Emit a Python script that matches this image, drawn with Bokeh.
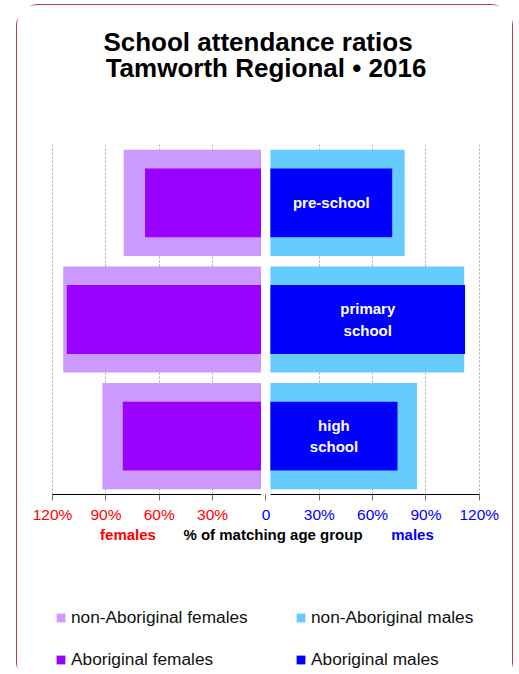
import numpy as np
from bokeh.plotting import figure
from bokeh.layouts import column, row
from bokeh.models import (Range1d, FactorRange, LinearAxis, FixedTicker, Grid,
                          Legend, LegendItem, ColumnDataSource, Spacer)
from bokeh.core.properties import value
from bokeh.embed import file_html
from bokeh.resources import INLINE

# ---------------- data ----------------
categories = ["pre-school", "primary school", "high school"]
bar_labels = ["pre-school", "primary\nschool", "high\nschool"]
non_aboriginal_females = [80, 114, 92]
aboriginal_females = [68, 112, 80.5]
non_aboriginal_males = [78, 111.5, 85]
aboriginal_males = [71, 112, 74]
female_ticks = [-120, -90, -60, -30]
male_ticks = [0, 30, 60, 90, 120]
title_line1 = "School attendance ratios"
title_line2 = "Tamworth Regional • 2016"
caption_females = "females"
caption_middle = "% of matching age group"
caption_males = "males"
legend_labels = ["non-Aboriginal females", "Aboriginal females",
                 "non-Aboriginal males", "Aboriginal males"]

# ---------------- styles ----------------
FONT = "Liberation Sans"
GAP = 2.5                # half gap between the two halves, in % units
PX_PER_PCT = 1.778
C_NF, C_AF, C_NM, C_AM = "#CC99FF", "#9900FF", "#66CCFF", "#0000FF"
RED, BLUE = "#FF0000", "#0000FF"
W_LEFT, W_RIGHT = 244, 251
W_ALL = W_LEFT + W_RIGHT
TOP_H = 139
FRAME_H = 351
AXIS_P = 30              # height of the tick-label panel
BOT_H = 668 - TOP_H - FRAME_H - AXIS_P

nf = np.array(non_aboriginal_females, dtype=float)
af = np.array(aboriginal_females, dtype=float)
nm = np.array(non_aboriginal_males, dtype=float)
am = np.array(aboriginal_males, dtype=float)

src = ColumnDataSource(dict(
    cat=categories,
    nf_left=-nf, af_left=-af, f_right=[-GAP] * 3,
    m_left=[GAP] * 3, nm_right=nm, am_right=am,
    lab=bar_labels, lab_x=(am + GAP) / 2,
))


def blank(p):
    p.grid.visible = False
    p.outline_line_color = None
    p.background_fill_color = "white"
    p.border_fill_color = "white"
    return p


# ---------- title figure (pixel coordinates) ----------
top = blank(figure(width=W_ALL, height=TOP_H, x_range=Range1d(0, W_ALL),
                   y_range=Range1d(TOP_H, 0), output_backend="svg", title=None,
                   toolbar_location=None, x_axis_location=None, y_axis_location=None,
                   min_border=0))
top.text(x=[240.5, 248.5], y=[36, 62.7], text=[title_line1, title_line2],
         text_font=value(FONT), text_font_style="bold", text_font_size="26px",
         text_align="center", text_baseline="middle", text_color="black")


# ---------- bar figures ----------
def bar_fig(width, xr):
    p = figure(width=width, height=FRAME_H + AXIS_P, x_range=xr,
               y_range=FactorRange(factors=categories[::-1]),
               output_backend="svg", toolbar_location=None, title=None,
               x_axis_location=None, y_axis_location=None,
               min_border_left=0, min_border_right=0, min_border_top=0,
               min_border_bottom=AXIS_P)
    return blank(p)


left = bar_fig(W_LEFT, Range1d(-GAP - W_LEFT / PX_PER_PCT, -GAP))
right = bar_fig(W_RIGHT, Range1d(-GAP, -GAP + W_RIGHT / PX_PER_PCT))

left.add_layout(Grid(dimension=0, ticker=FixedTicker(ticks=female_ticks),
                     grid_line_color="#a8a8a8", grid_line_dash="2 2"))
right.add_layout(Grid(dimension=0, ticker=FixedTicker(ticks=male_ticks[1:]),
                      grid_line_color="#a8a8a8", grid_line_dash="2 2"))

r_nf = left.hbar(y="cat", left="nf_left", right="f_right", height=0.91, source=src,
                 fill_color=C_NF, line_color=None)
r_af = left.hbar(y="cat", left="af_left", right="f_right", height=0.59, source=src,
                 fill_color=C_AF, line_color=None)
r_nm = right.hbar(y="cat", left="m_left", right="nm_right", height=0.91, source=src,
                  fill_color=C_NM, line_color=None)
r_am = right.hbar(y="cat", left="m_left", right="am_right", height=0.59, source=src,
                  fill_color=C_AM, line_color=None)
right.text(x="lab_x", y="cat", text="lab", source=src, text_color="white",
           text_font=value(FONT), text_font_style="bold", text_font_size="15px",
           text_align="center", text_baseline="middle", text_line_height=1.27)


def make_axis(ticks, color, bounds):
    ax = LinearAxis(ticker=FixedTicker(ticks=ticks), bounds=bounds,
                    major_label_overrides={t: (f"{abs(t)}%" if t != 0 else "0") for t in ticks})
    ax.axis_line_color = "black"
    ax.axis_line_width = 1
    ax.major_tick_line_color = "#707070"
    ax.major_tick_out = 6
    ax.major_tick_in = 0
    ax.minor_tick_line_color = None
    ax.major_label_text_color = color
    ax.major_label_text_font = FONT
    ax.major_label_text_font_size = "15.5px"
    ax.major_label_text_line_height = 1.0
    ax.major_label_standoff = 5
    return ax


left.add_layout(make_axis(female_ticks, RED, (-120, -GAP)), "below")
right.add_layout(make_axis(male_ticks, BLUE, (GAP, 120)), "below")

# ---------- bottom figure: captions and legends (pixel coordinates) ----------
bot = blank(figure(width=W_ALL, height=BOT_H, x_range=Range1d(0, W_ALL),
                   y_range=Range1d(BOT_H, 0), output_backend="svg", title=None,
                   toolbar_location=None, x_axis_location=None, y_axis_location=None,
                   min_border=0))
cap_y = 534.3 - (495 + AXIS_P)
bot.text(x=[110.5, 255.5, 395], y=[cap_y] * 3,
         text=[caption_females, caption_middle, caption_males],
         text_color=[RED, "black", BLUE],
         text_font=value(FONT), text_font_style="bold", text_font_size="15px",
         text_align="center", text_baseline="middle")

dummy = {}
for key, col in [("nf", C_NF), ("af", C_AF), ("nm", C_NM), ("am", C_AM)]:
    dummy[key] = bot.hbar(y=np.array([np.nan]), left=np.array([np.nan]),
                          right=np.array([np.nan]), height=1,
                          fill_color=col, line_color=None)


def make_legend(items, loc):
    return Legend(items=items, location=loc, orientation="vertical",
                  glyph_width=11, glyph_height=11, label_standoff=5,
                  label_text_font=FONT, label_text_font_size="17.3px",
                  label_text_color="#111111", label_height=20, spacing=21,
                  padding=0, margin=0, border_line_color=None,
                  background_fill_alpha=0)


bot.add_layout(make_legend([LegendItem(label=value(legend_labels[0]), renderers=[dummy["nf"]]),
                            LegendItem(label=value(legend_labels[1]), renderers=[dummy["af"]])],
                           (38, 3.5)))
bot.add_layout(make_legend([LegendItem(label=value(legend_labels[2]), renderers=[dummy["nm"]]),
                            LegendItem(label=value(legend_labels[3]), renderers=[dummy["am"]])],
                           (278, 3.5)))

box = column(top, row(left, right), bot)
box.styles = {"border": "1px solid #b0403f", "border-bottom": "none",
              "border-radius": "22px 22px 10px 10px"}
root = column(Spacer(width=10, height=4), row(Spacer(width=16, height=10), box))

open("out.html", "w").write(file_html(root, INLINE, title="School attendance ratios"))
